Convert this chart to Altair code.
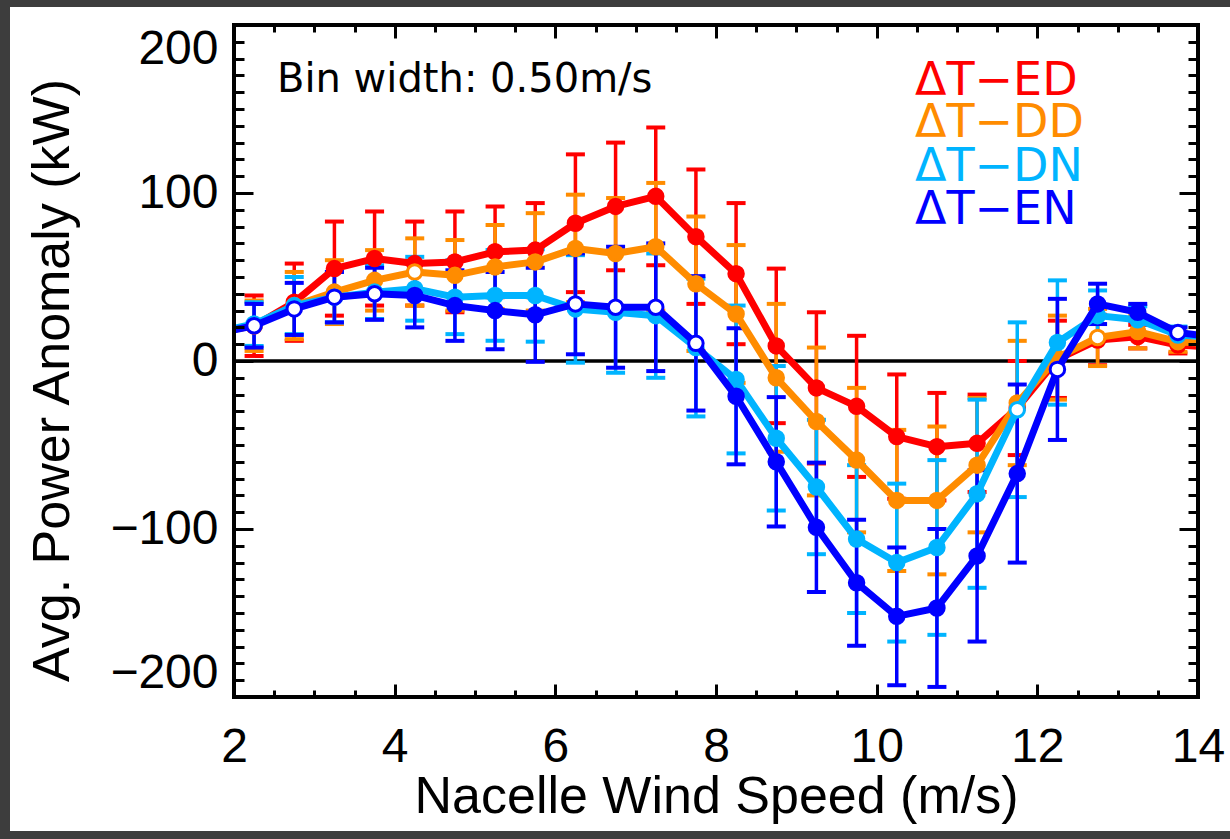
import altair as alt
import pandas as pd

# ---------------- data ----------------
wind = [1.75, 2.25, 2.75, 3.25, 3.75, 4.25, 4.75, 5.25, 5.75, 6.25, 6.75, 7.25, 7.75,
        8.25, 8.75, 9.25, 9.75, 10.25, 10.75, 11.25, 11.75, 12.25, 12.75, 13.25, 13.75, 14.25]

series_names = ["ΔT−ED", "ΔT−DD", "ΔT−DN", "ΔT−EN"]
series_colors = ["#FF0000", "#FF8C00", "#00B4FF", "#0000FF"]

ed_val = [17, 21, 35, 55, 61, 58, 59, 65, 66, 82, 92, 98, 74, 52, 9, -16, -27, -45, -51, -49, -28, 1, 12.5, 14.5, 9.5, 8]
ed_err = [None, 18, 23, 28, 28, 25, 30, 27, 28, 41, 38, 41, 40, 42, 46, 45, 42, 37, 32, 29, 28, 23, 15, 7, 5, None]
ed_open = [0] * 26

dd_val = [17, 21, 33, 41, 48, 53, 51, 56, 59, 67, 64, 68, 46, 28, -10, -36, -59, -83, -83, -62, -25, 2, 14, 17.5, 11.5, 10]
dd_err = [None, 15, 20, 19, 18, 20, 21, 25, 29, 32, 33, 38, 40, 41, 44, 44, 43, 42, 44, 40, 37, 25, 17, 10, 6, None]
dd_open = [0, 0, 0, 0, 0, 1, 0, 0, 0, 0, 0, 0, 0, 0, 0, 0, 0, 0, 0, 0, 0, 0, 1, 0, 0, 0]

dn_val = [17, 22, 33, 38, 41, 43, 38, 39, 39, 31, 29, 27, 8, -11, -46, -75, -106, -120, -111, -79, -29, 11, 27, 24.5, 15.5, 14]
dn_err = [None, 13, 17, 15, 16, 19, 22, 27, 27.5, 32, 36, 37, 41, 44, 43, 40, 44, 47, 52, 56, 52, 37, 15, 8, 5, None]
dn_open = [0, 0, 0, 0, 0, 0, 0, 0, 0, 0, 0, 0, 0, 0, 0, 0, 0, 0, 0, 0, 1, 0, 0, 0, 0, 0]

en_val = [16, 21, 31, 38, 40, 39, 33, 30, 27.5, 34, 32, 32, 10.5, -21, -60, -99, -132, -152, -147, -116, -67, -5, 34, 29, 17, 14]
en_err = [None, 13, 15.5, 15, 15.5, 19, 21, 23, 28, 30, 36, 38, 40, 40.5, 38.5, 38.5, 37.5, 41, 47, 51, 53, 42, 12, 5, 3, None]
en_open = [0, 1, 1, 1, 1, 0, 0, 0, 0, 1, 1, 1, 1, 0, 0, 0, 0, 0, 0, 0, 0, 1, 0, 0, 1, 0]

x_label_values = [2, 4, 6, 8, 10, 12, 14]
x_minor_values = [2.5, 3, 3.5, 4.5, 5, 5.5, 6.5, 7, 7.5, 8.5, 9, 9.5, 10.5, 11, 11.5, 12.5, 13, 13.5]
y_label_values = [-200, -100, 0, 100, 200]
y_minor_values = [v for v in range(-190, 200, 10) if v % 100 != 0]

x_title = "Nacelle Wind Speed (m/s)"
y_title = "Avg. Power Anomaly (kW)"
note_text = "Bin width: 0.50m/s"

# ---------------- layout ----------------
W, H = 964, 672
PAD = {"left": 234, "top": 25, "right": 32, "bottom": 142}
FONT = "Liberation Sans"
NOTE_FONT = "DejaVu Sans"

xs = alt.Scale(domain=[2, 14], nice=False, zero=False)
ys = alt.Scale(domain=[-200, 200], nice=False, zero=False)

all_vals = [ed_val, dd_val, dn_val, en_val]
all_errs = [ed_err, dd_err, dn_err, en_err]
all_open = [ed_open, dd_open, dn_open, en_open]

frames = {}
for name, vals, errs, opens in zip(series_names, all_vals, all_errs, all_open):
    rows = []
    for xv, v, e, o in zip(wind, vals, errs, opens):
        rows.append({
            "x": xv, "v": v, "open": o,
            "lo": (v - e) if e is not None else None,
            "hi": (v + e) if e is not None else None,
        })
    frames[name] = pd.DataFrame(rows)


def inside(df):
    return df[(df["x"] > 2) & (df["x"] < 14)]


one = pd.DataFrame({"k": [0]})

layers = []

# white card on the dark page
layers.append(
    alt.Chart(one).mark_rect(color="white").encode(
        x=alt.value(-224), x2=alt.value(996), y=alt.value(-18), y2=alt.value(806)
    )
)

# zero line
layers.append(
    alt.Chart(pd.DataFrame({"zero": [0]})).mark_rule(color="black", strokeWidth=3.5).encode(
        y=alt.Y("zero:Q", scale=ys, axis=None)
    )
)

# error bars
for name, col in zip(series_names, series_colors):
    d = inside(frames[name])
    layers.append(
        alt.Chart(d).mark_rule(color=col, strokeWidth=3.5).encode(
            x=alt.X("x:Q", scale=xs, axis=None),
            y=alt.Y("lo:Q", scale=ys, axis=None),
            y2="hi:Q",
        )
    )
    for end in ["lo", "hi"]:
        layers.append(
            alt.Chart(d).mark_tick(color=col, orient="horizontal", size=19, thickness=4, opacity=1).encode(
                x=alt.X("x:Q", scale=xs, axis=None),
                y=alt.Y(f"{end}:Q", scale=ys, axis=None),
            )
        )

# lines and points
for name, col in zip(series_names, series_colors):
    d = frames[name]
    layers.append(
        alt.Chart(d).mark_line(color=col, strokeWidth=7, clip=True, strokeJoin="round").encode(
            x=alt.X("x:Q", scale=xs, axis=None),
            y=alt.Y("v:Q", scale=ys, axis=None),
        )
    )
    layers.append(
        alt.Chart(inside(d)).mark_point(shape="circle", filled=True, size=210, strokeWidth=3, opacity=1).encode(
            x=alt.X("x:Q", scale=xs, axis=None),
            y=alt.Y("v:Q", scale=ys, axis=None),
            fill=alt.condition("datum.open == 1", alt.value("white"), alt.value(col)),
            stroke=alt.value(col),
        )
    )

# frame
layers.append(
    alt.Chart(one).mark_rect(fill="transparent", stroke="black", strokeWidth=4).encode(
        x=alt.value(0), x2=alt.value(W), y=alt.value(0), y2=alt.value(H)
    )
)

# annotation text
layers.append(
    alt.Chart(pd.DataFrame({"t": [note_text]})).mark_text(
        align="left", baseline="alphabetic", font=NOTE_FONT, fontSize=40, color="black"
    ).encode(text="t:N", x=alt.value(43), y=alt.value(67))
)

legend_baselines = [70, 112, 156, 199]
for name, col, yb in zip(series_names, series_colors, legend_baselines):
    layers.append(
        alt.Chart(pd.DataFrame({"t": [name]})).mark_text(
            align="left", baseline="alphabetic", font=NOTE_FONT, fontSize=46, color=col
        ).encode(text="t:N", x=alt.value(681), y=alt.value(yb))
    )

# axes (labels outside, ticks inward on all four sides)
dummy = pd.DataFrame({"ax": [2], "ay": [0]})


def tick_axis(orient, offset, values, size):
    return alt.Axis(orient=orient, offset=offset, values=values, tickSize=size, tickWidth=3,
                    tickColor="black", ticks=True, labels=False, domain=False, grid=False,
                    title=None, zindex=1)


def axis_layer(xa, ya):
    return alt.Chart(dummy).mark_point(opacity=0, size=1).encode(
        x=alt.X("ax:Q", scale=xs, axis=xa),
        y=alt.Y("ay:Q", scale=ys, axis=ya),
    )


x_lab = alt.Axis(orient="bottom", values=x_label_values, ticks=False, domain=False, grid=False,
                 labelFont=FONT, labelFontSize=48, labelColor="black", labelPadding=26,
                 labelFlush=False, labelOverlap=False,
                 title=x_title, titleFont=FONT, titleFontSize=52, titleFontWeight="normal",
                 titleColor="black", titleX=W / 2, titleY=115, titleBaseline="alphabetic",
                 zindex=1)
y_lab = alt.Axis(orient="left", values=y_label_values, ticks=False, domain=False, grid=False,
                 labelFont=FONT, labelFontSize=48, labelColor="black", labelPadding=16,
                 labelFlush=True, labelOverlap=False,
                 title=y_title, titleFont=FONT, titleFontSize=52, titleFontWeight="normal",
                 titleColor="black", titleAngle=270, titleX=-166, titleY=355,
                 titleBaseline="alphabetic", zindex=1)

layers.append(axis_layer(x_lab, y_lab))
layers.append(axis_layer(tick_axis("top", -H, x_label_values, 13), tick_axis("right", -W, y_label_values, 19)))
layers.append(axis_layer(tick_axis("top", -H, x_minor_values, 7), tick_axis("right", -W, y_minor_values, 10)))
layers.append(axis_layer(tick_axis("bottom", -H, x_label_values, 13), tick_axis("left", -W, y_label_values, 19)))
layers.append(axis_layer(tick_axis("bottom", -H, x_minor_values, 7), tick_axis("left", -W, y_minor_values, 10)))

chart = alt.layer(*layers).resolve_axis(x="independent", y="independent").properties(
    width=W, height=H, padding=PAD,
    autosize=alt.AutoSizeParams(type="none"),
    background="#3d3d3d",
).configure_view(stroke="transparent")

chart.save("out.html", embed_options={"renderer": "svg", "actions": False})
